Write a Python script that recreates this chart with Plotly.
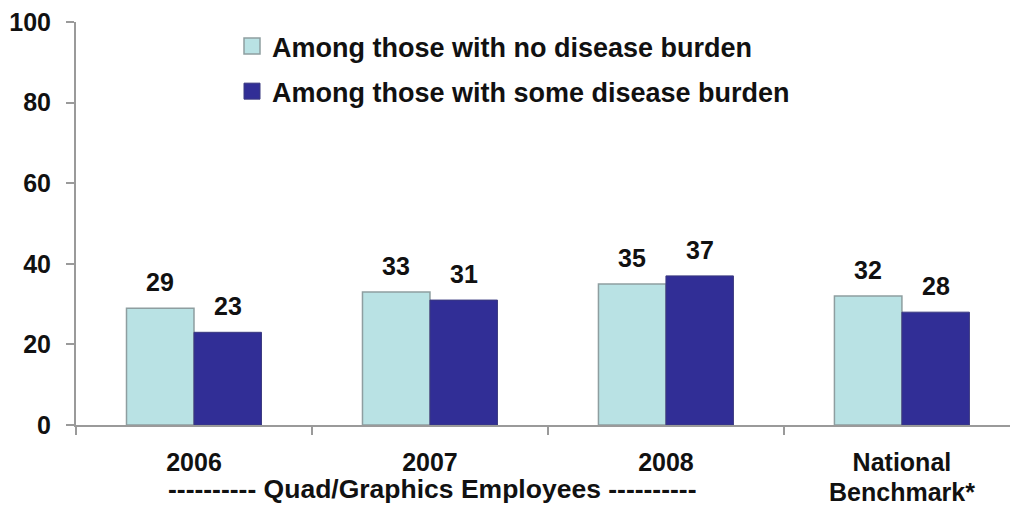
import plotly.graph_objects as go

categories = ["2006", "2007", "2008", "National"]
no_burden = [29, 33, 35, 32]
some_burden = [23, 31, 37, 28]
series_names = ["Among those with no disease burden", "Among those with some disease burden"]
y_ticks = [0, 20, 40, 60, 80, 100]
group_label = "---------- Quad/Graphics Employees ----------"
benchmark_second_line = "Benchmark*"

LIGHT = "#B9E2E4"
LIGHT_EDGE = "#8E9EA0"
DARK = "#312E96"
DARK_EDGE = "#3B3A80"
FONT = "Liberation Sans, Arial, sans-serif"
TXT = "#111111"
AXIS = "#9A9A9A"


def f(size):
    return dict(family=FONT, size=size, color=TXT, weight="bold")


fig = go.Figure()
fig.add_bar(x=categories, y=no_burden, name=series_names[0], showlegend=False,
            marker=dict(color=LIGHT, line=dict(color=LIGHT_EDGE, width=1.5)))
fig.add_bar(x=categories, y=some_burden, name=series_names[1], showlegend=False,
            marker=dict(color=DARK, line=dict(color=DARK_EDGE, width=1)))

# legend proxies (larger square symbols)
fig.add_scatter(x=[None], y=[None], mode="markers", name=series_names[0], legendgroup="a",
                marker=dict(symbol="square", size=17, color=LIGHT, line=dict(color=LIGHT_EDGE, width=1.5)))
fig.add_scatter(x=[None], y=[None], mode="markers", name=series_names[1], legendgroup="b",
                marker=dict(symbol="square", size=17, color=DARK, line=dict(color=DARK_EDGE, width=1)))

annotations = []
for series, shift in ((no_burden, -34), (some_burden, 34)):
    for i, v in enumerate(series):
        annotations.append(dict(x=i, y=v, xref="x", yref="y", text=str(v), showarrow=False,
                                xshift=shift, yshift=10, yanchor="bottom", font=f(25)))
annotations.append(dict(x=(432 - 76) / 934, y=-0.159, xref="paper", yref="paper",
                        text=group_label, showarrow=False, yanchor="middle", font=f(26.5)))
annotations.append(dict(x=3, y=-0.166, xref="x", yref="paper",
                        text=benchmark_second_line, showarrow=False, yanchor="middle", font=f(25)))

fig.update_layout(
    width=1010, height=507,
    margin=dict(l=76, r=0, t=22, b=82, autoexpand=False),
    paper_bgcolor="white", plot_bgcolor="white",
    barmode="group", bargap=0.428, bargroupgap=0,
    font=f(25),
    showlegend=True,
    legend=dict(x=(232 - 76) / 934, y=1.0, xref="paper", yref="paper",
                xanchor="left", yanchor="top", bgcolor="rgba(0,0,0,0)",
                font=f(27), tracegroupgap=7),
    annotations=annotations,
)
fig.update_xaxes(type="category", range=[-0.5, 3.458], showline=True, linecolor=AXIS, linewidth=2,
                 ticks="outside", ticklen=8, tickcolor=AXIS, tickwidth=1.5, tickson="boundaries",
                 showgrid=False, zeroline=False, ticklabelstandoff=14, tickangle=0,
                 tickfont=f(25))
fig.update_yaxes(range=[0, 100], tickvals=y_ticks, showline=True, linecolor=AXIS, linewidth=2,
                 ticks="outside", ticklen=8, tickcolor=AXIS, tickwidth=1.5,
                 showgrid=False, zeroline=False, ticklabelstandoff=10,
                 tickfont=f(25))

fig.write_html("out.html")
